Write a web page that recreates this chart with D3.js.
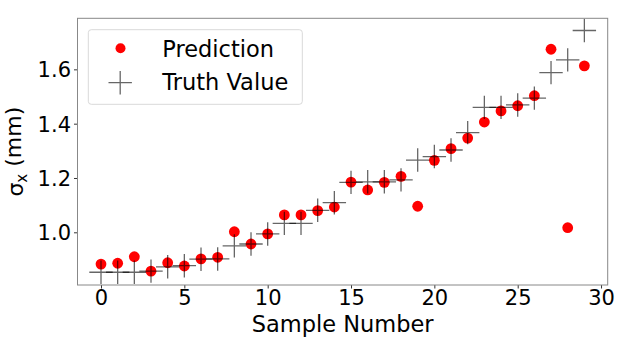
<!DOCTYPE html>
<html lang="en">
<head>
  <meta charset="UTF-8">
  <script src="https://d3js.org/d3.v7.min.js"></script>
  <style>
    body { margin: 0; background: white; }
    text { font-family: "DejaVu Sans", sans-serif; fill: black; }
  </style>
</head>
<body>
  <div id="chart"></div>
  <script>
    // values
    var samples = [0, 1, 2, 3, 4, 5, 6, 7, 8, 9, 10, 11, 12, 13, 14, 15, 16, 17, 18, 19, 20, 21, 22, 23, 24, 25, 26, 27, 28, 29];
    var prediction = [0.883, 0.886, 0.910, 0.857, 0.888, 0.876, 0.902, 0.908, 1.002, 0.957,
      0.994, 1.064, 1.064, 1.080, 1.093, 1.185, 1.156, 1.184, 1.206, 1.096,
      1.265, 1.308, 1.347, 1.406, 1.447, 1.466, 1.503, 1.674, 1.017, 1.613];
    var truth = [0.853, 0.853, 0.853, 0.857, 0.873, 0.877, 0.901, 0.902, 0.950, 0.957,
      0.994, 1.033, 1.033, 1.081, 1.109, 1.184, 1.186, 1.186, 1.193, 1.266,
      1.279, 1.303, 1.367, 1.460, 1.460, 1.469, 1.494, 1.588, 1.635, 1.743];
    var xTicks = [0, 5, 10, 15, 20, 25, 30];
    var yTicks = [1.0, 1.2, 1.4, 1.6];

    let width = 628;
    let height = 354;
    let margin = { top: 18.3, right: 20.3, bottom: 69, left: 77.5 };
    let plotW = width - margin.left - margin.right;
    let plotH = height - margin.top - margin.bottom;

    let svg = d3.select("#chart")
      .append("svg")
      .attr("width", width)
      .attr("height", height);

    const xScale = d3.scaleLinear().domain([-1.41, 30.4]).range([0, plotW]);
    const yScale = d3.scaleLinear().domain([0.806, 1.788]).range([plotH, 0]);

    svg.append("defs").append("clipPath")
      .attr("id", "clip")
      .append("rect")
      .attr("width", plotW)
      .attr("height", plotH);

    let plot = svg.append("g")
      .attr("transform", "translate(" + margin.left + "," + margin.top + ")");

    // axes
    let xAxis = d3.axisBottom(xScale).tickValues(xTicks).tickSize(3.5).tickPadding(2).tickFormat(d3.format("d"));
    let yAxis = d3.axisLeft(yScale).tickValues(yTicks).tickSize(3.5).tickPadding(3).tickFormat(d3.format(".1f"));

    let gx = plot.append("g")
      .attr("transform", "translate(0," + plotH + ")")
      .call(xAxis);
    let gy = plot.append("g").call(yAxis);

    [gx, gy].forEach(function (g) {
      g.select(".domain").remove();
      g.selectAll(".tick line").attr("stroke", "black").attr("stroke-width", 0.8);
      g.selectAll(".tick text")
        .style("font-family", "DejaVu Sans")
        .style("font-size", "21px")
        .attr("fill", "black");
    });
    gy.selectAll(".tick text").attr("dy", "0.36em");

    let dataLayer = plot.append("g").attr("clip-path", "url(#clip)");

    // predictions
    dataLayer.selectAll(".pred")
      .data(samples)
      .enter()
      .append("circle")
      .attr("class", "pred")
      .attr("cx", d => xScale(d))
      .attr("cy", (d, i) => yScale(prediction[i]))
      .attr("r", 5.4)
      .attr("fill", "#ff0000");

    // truth "+" markers
    let half = 11.7;
    samples.forEach(function (d, i) {
      let cx = xScale(d);
      let cy = yScale(truth[i]);
      dataLayer.append("path")
        .attr("d", "M" + (cx - half) + "," + cy + "H" + (cx + half) +
          "M" + cx + "," + (cy - half) + "V" + (cy + half))
        .attr("stroke", "black")
        .attr("stroke-width", 1.3)
        .attr("stroke-opacity", 0.6)
        .attr("fill", "none");
    });

    // frame
    plot.append("rect")
      .attr("width", plotW)
      .attr("height", plotH)
      .attr("fill", "none")
      .attr("stroke", "#888")
      .attr("stroke-width", 1);

    // legend
    let legend = svg.append("g");
    legend.append("rect")
      .attr("x", 88.3)
      .attr("y", 29.7)
      .attr("width", 214)
      .attr("height", 74.6)
      .attr("rx", 3)
      .attr("fill", "white")
      .attr("fill-opacity", 0.8)
      .attr("stroke", "#d9d9d9")
      .attr("stroke-width", 1);
    legend.append("circle")
      .attr("cx", 120.5)
      .attr("cy", 48.3)
      .attr("r", 5)
      .attr("fill", "#ff0000");
    legend.append("path")
      .attr("d", "M" + (120.2 - half) + ",82.7H" + (120.2 + half) + "M120.2," + (82.7 - half) + "V" + (82.7 + half))
      .attr("stroke", "black")
      .attr("stroke-width", 1.3)
      .attr("stroke-opacity", 0.6);
    legend.append("text")
      .attr("x", 162.3)
      .attr("y", 57.3)
      .style("font-size", "22.5px")
      .text("Prediction");
    legend.append("text")
      .attr("x", 162.3)
      .attr("y", 90)
      .style("font-size", "22.5px")
      .text("Truth Value");

    // axis labels
    svg.append("text")
      .attr("x", margin.left + plotW / 2)
      .attr("y", 331.5)
      .style("text-anchor", "middle")
      .style("font-size", "22.5px")
      .text("Sample Number");

    let ylab = svg.append("text")
      .attr("transform", "translate(23," + (margin.top + plotH / 2) + ") rotate(-90)")
      .style("text-anchor", "middle")
      .style("font-size", "22px");
    ylab.append("tspan").text("\u03c3");
    ylab.append("tspan").attr("dy", "0.25em").style("font-size", "15px").text("x");
    ylab.append("tspan").attr("dy", "-0.25em").text(" (mm)");
  </script>
</body>
</html>
